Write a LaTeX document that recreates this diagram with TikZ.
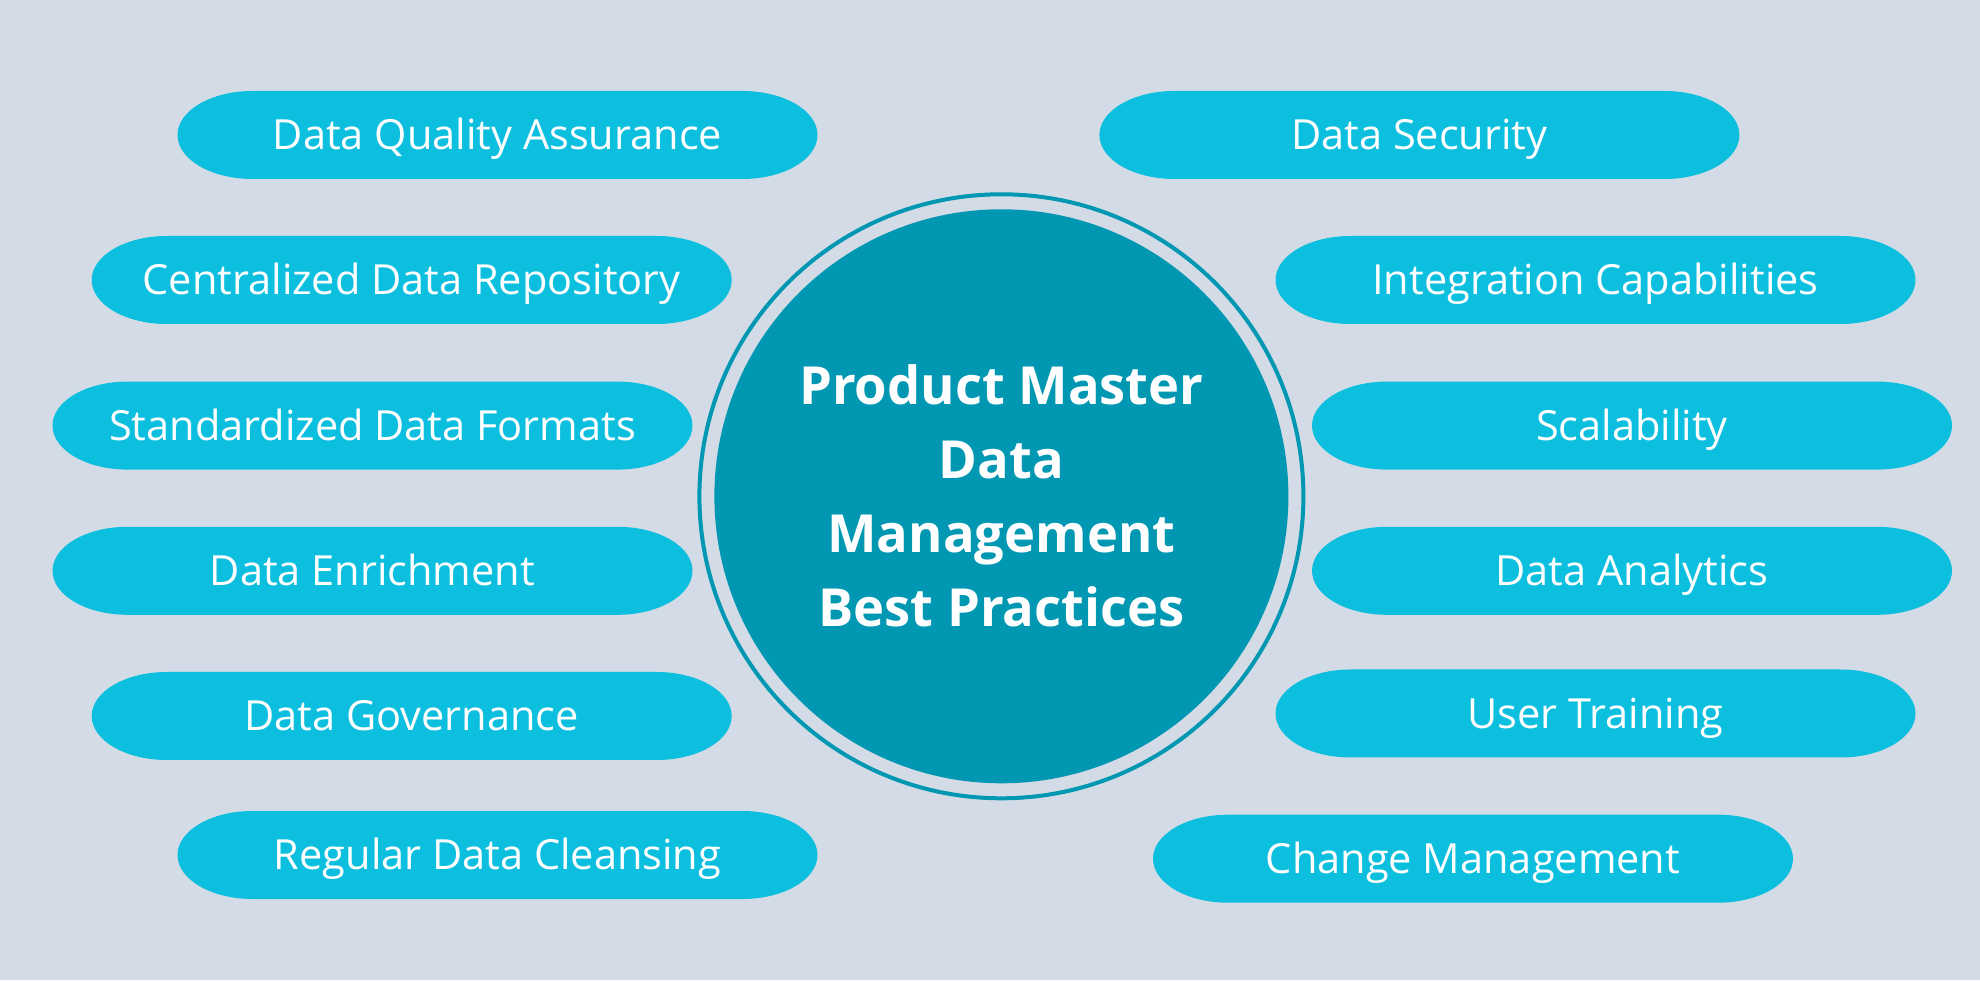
\documentclass[tikz,border=0pt]{standalone}
\usepackage{fontspec}
\setmainfont{Open Sans}
\definecolor{bgc}{HTML}{D3DBE6}
\definecolor{pillc}{HTML}{0DBFDF}
\definecolor{circc}{HTML}{0097B2}
\tikzset{
  pilltext/.style={text=white, font=\fontsize{41.5}{48}\selectfont, inner sep=0pt, text height=29.5pt, text depth=0pt},
  titletext/.style={text=white, font=\fontsize{52.5}{74}\selectfont\bfseries, align=center, inner sep=0pt},
  pillfill/.style={fill=pillc},
}
\newcommand\mypill[4]{%
  \fill[pillfill] (#2-245,#3-44) -- (#2+245,#3-44)
    arc[start angle=-90,end angle=90,x radius=75pt,y radius=44pt]
    -- (#2-245,#3+44)
    arc[start angle=90,end angle=270,x radius=75pt,y radius=44pt] -- cycle;
  \node[pilltext] (#1) at (#2,#3) {#4};}
\begin{document}
\begin{tikzpicture}[x=1pt,y=1pt]
\fill[bgc] (0,0) rectangle (1980,980);
\useasboundingbox (0,0) rectangle (1980,980);
% central circle
\draw[circc, line width=4pt] (1001.4,483.7) circle[radius=302pt];
\fill[circc] (1001.4,483.7) circle[radius=287pt];
\node[titletext] (title) at (1001.4,483.7) {Product Master\\Data\\Management\\Best Practices};
% left column
\mypill{l1}{497.5}{845}{Data Quality Assurance}
\mypill{l2}{411.7}{700}{Centralized Data Repository}
\mypill{l3}{372.5}{554.4}{Standardized Data Formats}
\mypill{l4}{372.5}{409.2}{Data Enrichment}
\mypill{l5}{411.7}{264}{Data Governance}
\mypill{l6}{497.5}{125}{Regular Data Cleansing}
% right column
\mypill{r1}{1419.4}{845}{Data Security}
\mypill{r2}{1595.5}{700}{Integration Capabilities}
\mypill{r3}{1632}{554.4}{Scalability}
\mypill{r4}{1632}{409.2}{Data Analytics}
\mypill{r5}{1595.5}{266.5}{User Training}
\mypill{r6}{1473}{121.3}{Change Management}
\end{tikzpicture}
\end{document}
